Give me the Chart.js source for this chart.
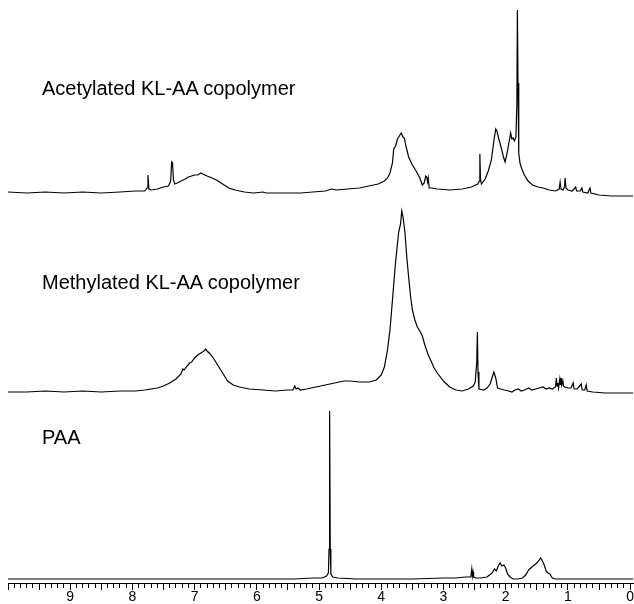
<!DOCTYPE html>
<html lang="en">
<head>
<meta charset="UTF-8">
<title>1H NMR spectra</title>
<script src="https://cdn.jsdelivr.net/npm/chart.js"></script>
<style>
    body {
        margin: 0;
        background: #fff;
        font-family: Arial, "Liberation Sans", sans-serif;
    }
    .wrap {
        position: relative;
        width: 634px;
        height: 604px;
    }
    .name {
        position: absolute;
        left: 42px;
        font-size: 20px;
        line-height: 20px;
        color: #000;
        white-space: nowrap;
    }
</style>
</head>
<body>
<div class="wrap" id="wrap">
    <canvas id="nmr"></canvas>
</div>

<script>
// chemical shift (ppm), intensity above each trace's own baseline
const acetylated = [
    [10.0,1],[9.7,0],[9.4,1],[9.1,0],[8.8,1],[8.5,0],[8.2,1],[7.95,2],[7.8,2],[7.765,5],[7.75,18],[7.735,4],
    [7.7,3],[7.6,4],[7.5,6],[7.42,7],[7.385,12],[7.37,31],[7.355,30],[7.34,13],[7.32,9],[7.28,10],[7.22,12],
    [7.15,14],[7.1,16],[7.05,17],[7.0,18],[6.95,18],[6.9,20],[6.87,19],[6.8,17],[6.72,15],[6.65,13],[6.55,9],
    [6.45,5],[6.35,3],[6.2,1],[6.05,0],[5.9,1],[5.85,0],[5.7,0],[5.5,0],[5.3,0],[5.1,1],[4.9,2],[4.8,4],[4.72,3],
    [4.55,4],[4.35,5],[4.2,7],[4.05,9],[3.95,12],[3.9,15],[3.86,20],[3.82,30],[3.8,44],[3.77,47],[3.74,54],
    [3.7,58],[3.68,60],[3.65,56],[3.63,55],[3.6,46],[3.56,36],[3.5,28],[3.44,22],[3.38,15],[3.34,8],[3.31,10],
    [3.285,17],[3.27,16],[3.255,11],[3.245,15],[3.23,5],[3.19,5],[3.1,4],[2.9,3],[2.7,4],[2.55,6],[2.45,9],
    [2.425,12],[2.415,39],[2.405,14],[2.39,9],[2.33,14],[2.28,22],[2.23,33],[2.19,52],[2.16,64],[2.14,62],
    [2.11,54],[2.07,45],[2.04,37],[2.01,31],[1.98,39],[1.96,46],[1.94,53],[1.92,60],[1.9,54],[1.88,55],
    [1.86,52],[1.835,56],[1.82,90],[1.812,183],[1.802,110],[1.79,40],[1.77,30],[1.74,24],[1.7,18],[1.64,12],
    [1.57,8],[1.48,6],[1.4,5],[1.3,3],[1.2,2],[1.14,4],[1.125,11],[1.11,4],[1.08,3],[1.055,6],[1.045,15],
    [1.03,5],[1.0,3],[0.93,2],[0.875,6],[0.86,2],[0.8,2],[0.775,5],[0.76,1],[0.68,0],[0.645,5],[0.63,0],
    [0.5,-2],[0.3,-3],[0.1,-3],[-0.05,-3]
];

const methylated = [
    [10.0,0],[9.7,0],[9.4,1],[9.1,0],[8.8,1],[8.5,0],[8.2,1],[7.95,1],[7.8,2],[7.7,3],[7.6,4],[7.5,6],[7.4,9],
    [7.3,13],[7.22,18],[7.19,23],[7.17,22],[7.12,26],[7.08,29],[7.05,30],[7.0,34],[6.95,37],[6.9,39],[6.85,41],
    [6.82,43],[6.8,41],[6.75,38],[6.7,34],[6.65,29],[6.6,24],[6.53,17],[6.47,11],[6.38,7],[6.28,5],[6.12,3],
    [5.9,2],[5.7,1],[5.5,2],[5.42,2],[5.39,6],[5.37,3],[5.34,4],[5.3,2],[5.2,3],[5.05,5],[4.9,7],[4.75,9],
    [4.6,11],[4.5,11],[4.35,10],[4.19,10],[4.08,12],[4.0,17],[3.95,25],[3.9,42],[3.86,62],[3.82,92],[3.79,115],
    [3.77,130],[3.74,148],[3.72,160],[3.69,168],[3.67,181],[3.65,175],[3.62,160],[3.59,135],[3.56,115],
    [3.53,96],[3.5,82],[3.46,72],[3.42,65],[3.38,61],[3.34,56],[3.3,47],[3.25,38],[3.2,31],[3.15,24],[3.1,19],
    [3.0,11],[2.9,5],[2.8,2],[2.7,1],[2.6,3],[2.52,6],[2.49,10],[2.465,30],[2.455,60],[2.445,20],[2.43,3],
    [2.35,2],[2.3,4],[2.25,8],[2.22,14],[2.19,20],[2.16,14],[2.13,4],[2.08,3],[2.02,2],[1.95,1],[1.9,0],
    [1.85,2],[1.8,3],[1.75,1],[1.7,2],[1.63,4],[1.58,2],[1.52,3],[1.46,4],[1.4,5],[1.35,3],[1.3,4],[1.25,3],
    [1.2,5],[1.185,14],[1.175,6],[1.16,9],[1.15,4],[1.13,13],[1.12,7],[1.11,14],[1.1,7],[1.08,11],[1.07,6],
    [1.05,5],[1.0,4],[0.95,4],[0.915,9],[0.9,3],[0.85,3],[0.785,8],[0.77,2],[0.73,2],[0.705,7],[0.69,1],
    [0.6,0],[0.4,-1],[0.2,-1],[-0.05,-1]
];

const paa = [
    [10.0,0],[9.0,0],[8.0,0],[7.0,0],[6.0,0],[5.4,0],[5.1,1],[4.95,1],[4.88,3],[4.85,6],[4.84,30],[4.834,168],
    [4.826,168],[4.82,30],[4.81,5],[4.78,2],[4.7,1],[4.4,0],[4.0,0],[3.5,0],[3.0,1],[2.8,1],[2.65,2],[2.56,2],[2.545,10],
    [2.535,3],[2.525,7],[2.515,2],[2.48,1],[2.4,1],[2.3,2],[2.22,6],[2.18,10],[2.15,8],[2.12,13],[2.09,16],
    [2.06,13],[2.03,14],[2.0,11],[1.97,5],[1.93,2],[1.88,0],[1.8,0],[1.73,1],[1.68,4],[1.63,9],[1.58,12],
    [1.54,14],[1.5,16],[1.47,18],[1.44,21],[1.41,18],[1.38,14],[1.35,8],[1.32,6],[1.29,5],[1.25,1],[1.2,0],
    [1.0,0],[0.5,0],[-0.05,0]
];

const spectrumNames = ['Acetylated KL-AA copolymer', 'Methylated KL-AA copolymer', 'PAA'];
const ppmTickLabels = [9, 8, 7, 6, 5, 4, 3, 2, 1, 0];

// vertical stacking of the three traces and where their names sit
const traceOffsets = [390, 191, 4];
const nameTops = [78, 272, 427];

const FONT = 'Arial, "Liberation Sans", sans-serif';

const wrap = document.getElementById('wrap');
const canvas = document.getElementById('nmr');
canvas.width = 634;
canvas.height = 604;

spectrumNames.forEach((n, i) => {
    const d = document.createElement('div');
    d.className = 'name';
    d.style.top = nameTops[i] + 'px';
    d.textContent = n;
    wrap.appendChild(d);
});

const traces = [acetylated, methylated, paa];

const isWhole = v => Math.abs(v - Math.round(v)) < 1e-6;
const isHalf = v => Math.abs(v * 2 - Math.round(v * 2)) < 1e-6;

new Chart(canvas, {
    type: 'line',
    data: {
        datasets: traces.map((t, i) => ({
            label: spectrumNames[i],
            data: t.map(([x, y]) => ({ x: x, y: y + traceOffsets[i] })),
            borderColor: '#000',
            borderWidth: 1.2,
            pointRadius: 0,
            tension: 0,
            fill: false
        }))
    },
    options: {
        responsive: false,
        animation: false,
        events: [],
        layout: { padding: { left: 8, right: 0, top: 0, bottom: 0 } },
        plugins: {
            legend: { display: false },
            tooltip: { enabled: false }
        },
        scales: {
            x: {
                type: 'linear',
                reverse: true,
                min: -0.05,
                max: 10,
                border: { color: '#000', width: 1 },
                grid: {
                    drawOnChartArea: false,
                    tickLength: 7,
                    tickColor: '#000',
                    tickWidth: 1,
                    // minor ticks every 0.1 ppm are drawn shorter by a dash
                    tickBorderDash: ctx => isHalf(ctx.tick.value) ? [] : [4, 20]
                },
                ticks: {
                    stepSize: 0.1,
                    includeBounds: false,
                    autoSkip: false,
                    maxRotation: 0,
                    minRotation: 0,
                    padding: 0,
                    color: '#000',
                    font: { family: FONT, size: 14, lineHeight: 1 },
                    callback: v => (isWhole(v) && ppmTickLabels.includes(Math.round(v))) ? String(Math.round(v)) : ''
                }
            },
            y: {
                display: false,
                min: 0,
                max: 583
            }
        }
    }
});
</script>
</body>
</html>
